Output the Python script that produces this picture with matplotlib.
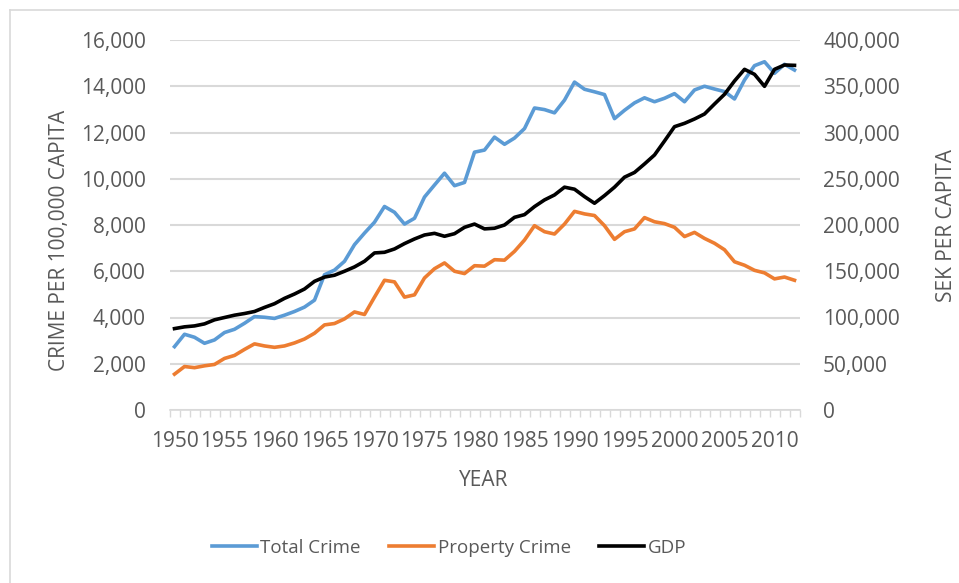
import numpy as np
import matplotlib.pyplot as plt
from matplotlib.lines import Line2D
from matplotlib.ticker import FuncFormatter

years = list(range(1950, 2013))

total_crime = [2740, 3275, 3145, 2885, 3030, 3350, 3490, 3750, 4040, 4010,
               3960, 4100, 4260, 4450, 4750, 5850, 6050, 6430, 7150, 7650,
               8120, 8800, 8550, 8040, 8290, 9210, 9730, 10240, 9700, 9840,
               11150, 11240, 11800, 11490, 11760, 12170, 13060, 12990, 12850, 13400,
               14180, 13870, 13760, 13640, 12600, 12960, 13280, 13500, 13330, 13480,
               13680, 13330, 13840, 14000, 13880, 13770, 13450, 14270, 14890, 15060,
               14560, 14950, 14700]

property_crime = [1550, 1880, 1830, 1910, 1970, 2230, 2360, 2620, 2860, 2770,
                  2710, 2770, 2900, 3070, 3320, 3680, 3740, 3940, 4240, 4130,
                  4880, 5610, 5540, 4880, 4980, 5710, 6110, 6360, 6000, 5900,
                  6240, 6220, 6500, 6480, 6860, 7350, 7970, 7710, 7610, 8040,
                  8590, 8480, 8410, 7970, 7380, 7710, 7830, 8320, 8140, 8060,
                  7900, 7500, 7680, 7420, 7210, 6930, 6410, 6260, 6040, 5930,
                  5670, 5750, 5610]

gdp = [88000, 89900, 90900, 93100, 97500, 100000, 102500, 104300, 106500, 110900,
       114900, 120700, 125400, 130800, 139100, 143700, 145700, 150000, 154700, 160800,
       169800, 170500, 174100, 179900, 184900, 189200, 191000, 187800, 190600, 197500,
       201000, 195800, 196500, 200000, 208300, 211200, 219900, 227100, 232500, 240900,
       238700, 230700, 223500, 231800, 240900, 251700, 256800, 266000, 275700, 290800,
       306300, 309900, 314600, 320000, 330800, 341300, 355700, 368300, 362900, 349900,
       368300, 373000, 372600]

left_ticks = [0, 2000, 4000, 6000, 8000, 10000, 12000, 14000, 16000]
right_ticks = [0, 50000, 100000, 150000, 200000, 250000, 300000, 350000, 400000]

grey = '#595959'
grid = '#d9d9d9'
plt.rcParams['font.family'] = ['Open Sans', 'DejaVu Sans']
fs = 15

W, H = 959, 583
fig = plt.figure(figsize=(W / 100, H / 100), dpi=100)
ax = fig.add_axes([169.5 / W, 1 - 410 / H, 630 / W, 370 / H])
ax2 = ax.twinx()

x = np.arange(len(years))
ax.plot(x, total_crime, color='#5B9BD5', lw=2.6, solid_joinstyle='round', zorder=3)
ax.plot(x, property_crime, color='#ED7D31', lw=2.6, solid_joinstyle='round', zorder=3)
ax2.plot(x, gdp, color='black', lw=2.6, solid_joinstyle='round', zorder=3)

ax.set_xlim(-0.5, len(years) - 0.5)
ax.set_ylim(0, 16000)
ax2.set_ylim(0, 400000)
ax.set_yticks(left_ticks)
ax2.set_yticks(right_ticks)
fmt = FuncFormatter(lambda v, p: f'{int(v):,}')
ax.yaxis.set_major_formatter(fmt)
ax2.yaxis.set_major_formatter(fmt)
ax.grid(axis='y', color=grid, lw=1.5, zorder=0)

label_idx = [i for i, y in enumerate(years) if y % 5 == 0]
ax.set_xticks(label_idx)
ax.set_xticklabels([str(years[i]) for i in label_idx])
ax.set_xticks(np.arange(-0.5, len(years)), minor=True)
ax.tick_params(axis='x', which='major', length=0, pad=15, labelsize=fs, labelcolor=grey)
ax.tick_params(axis='x', which='minor', length=5, width=1, color=grid)
ax.tick_params(axis='y', length=0, pad=17, labelsize=fs, labelcolor=grey)
ax2.tick_params(axis='y', length=0, pad=17, labelsize=fs, labelcolor=grey)

for a in (ax, ax2):
    for s in a.spines.values():
        s.set_visible(False)
ax.spines['bottom'].set_visible(True)
ax.spines['bottom'].set_color(grid)
ax.spines['bottom'].set_linewidth(1.2)

fig.text(484 / W, 1 - 480 / H, 'YEAR', ha='center', va='center', fontsize=fs, color=grey)
fig.text(60 / W, 1 - 240 / H, 'CRIME PER 100,000 CAPITA', rotation=90,
         ha='center', va='center', fontsize=fs, color=grey)
fig.text(946 / W, 1 - 225 / H, 'SEK PER CAPITA', rotation=90,
         ha='center', va='center', fontsize=fs, color=grey)

handles = [Line2D([], [], color='#5B9BD5', lw=2.6),
           Line2D([], [], color='#ED7D31', lw=2.6),
           Line2D([], [], color='black', lw=2.6)]
fig.legend(handles, ['Total Crime', 'Property Crime', 'GDP'], loc='center',
           bbox_to_anchor=(449 / W, 1 - 548 / H), ncol=3, frameon=False,
           fontsize=13.5, labelcolor=grey, handlelength=2.4, handletextpad=0.2,
           columnspacing=1.5)

# outer chart border (partly cropped in the original)
fig.add_artist(Line2D([10 / W, 10 / W], [0, 1 - 10 / H], color=grid, lw=1.2))
fig.add_artist(Line2D([10 / W, 1], [1 - 10 / H, 1 - 10 / H], color=grid, lw=1.2))

fig.savefig('out.png', dpi=100)
